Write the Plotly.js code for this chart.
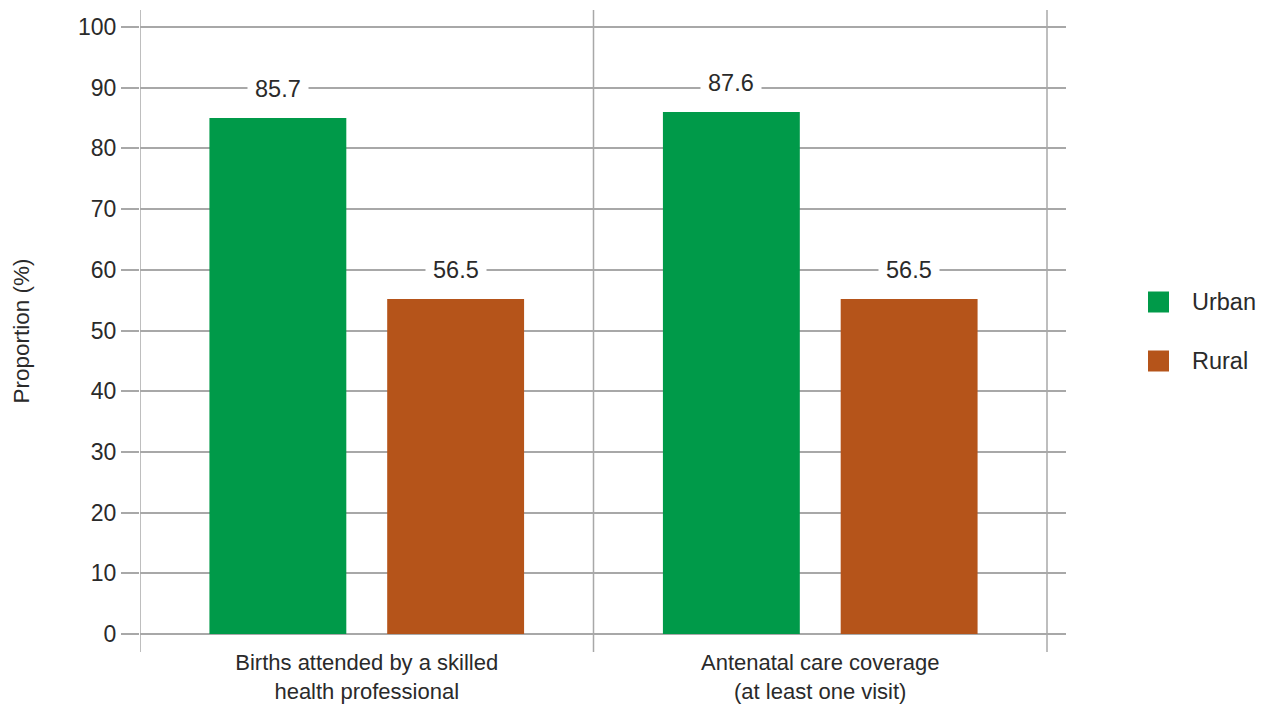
<!DOCTYPE html>
<html>
<head>
<meta charset="utf-8">
<script src="https://cdn.plot.ly/plotly-3.0.1.min.js"></script>
<style>
  html, body { margin: 0; padding: 0; background: #ffffff; }
  #chart { width: 1262px; height: 709px; }
</style>
</head>
<body>
<div id="chart"></div>
<script>
// ---- Data ----
var categories = ["Births attended by a skilled<br>health professional", "Antenatal care coverage<br>(at least one visit)"];
var seriesNames = ["Urban", "Rural"];
var urbanValues = [85.0, 86.0];
var ruralValues = [55.2, 55.2];
var urbanLabels = ["85.7", "87.6"];
var ruralLabels = ["56.5", "56.5"];
var yTickValues = [0, 10, 20, 30, 40, 50, 60, 70, 80, 90, 100];

// ---- Styling / layout ----
var FONT = "'Liberation Sans', Arial, Helvetica, sans-serif";
var TEXT = "#2a2a2a";
var GRID = "#a8a8a8";
var COLORS = ["#009a49", "#b5541a"];

var plotLeft = 140, plotRight = 1066, plotTop = 10, plotBottom = 652;
function px(x) { return (x - plotLeft) / (plotRight - plotLeft); }
function py(y) { return (plotBottom - y) / (plotBottom - plotTop); }

var bargap = 0.216, bargroupgap = 0.23;
var offset = (1 - bargap) / 4;

var traces = [
  { type: "bar", name: seriesNames[0], x: [0, 1], y: urbanValues,
    marker: { color: COLORS[0] }, hoverinfo: "y+name" },
  { type: "bar", name: seriesNames[1], x: [0, 1], y: ruralValues,
    marker: { color: COLORS[1] }, hoverinfo: "y+name" }
];

var annotations = [];
function addLabels(values, labels, shift) {
  for (var i = 0; i < values.length; i++) {
    annotations.push({
      x: i + shift, y: values[i], xref: "x", yref: "y",
      text: labels[i], showarrow: false, yshift: 29, yanchor: "middle",
      bgcolor: "#ffffff", borderpad: 7,
      font: { family: FONT, size: 23.5, color: TEXT }
    });
  }
}
addLabels(urbanValues, urbanLabels, -offset);
addLabels(ruralValues, ruralLabels, offset);

// custom legend
var legendY = [302, 361];
var shapes = [];
for (var s = 0; s < seriesNames.length; s++) {
  shapes.push({
    type: "rect", xref: "paper", yref: "paper",
    x0: px(1148), x1: px(1169), y0: py(legendY[s] + 10.5), y1: py(legendY[s] - 10.5),
    fillcolor: COLORS[s], line: { width: 0 }
  });
  annotations.push({
    xref: "paper", yref: "paper", x: px(1190), y: py(legendY[s]),
    xanchor: "left", yanchor: "middle", showarrow: false,
    text: seriesNames[s], font: { family: FONT, size: 23.5, color: TEXT }
  });
}
// category separator lines
[-0.5, 0.5, 1.5].forEach(function (xv) {
  shapes.push({
    type: "line", xref: "x", yref: "paper", x0: xv, x1: xv, y0: 0, y1: 1,
    line: { color: GRID, width: 1.5 }, layer: "below"
  });
});

var layout = {
  width: 1262, height: 709,
  margin: { l: plotLeft, r: 1262 - plotRight, t: plotTop, b: 709 - plotBottom, pad: 0 },
  paper_bgcolor: "#ffffff", plot_bgcolor: "#ffffff",
  font: { family: FONT, size: 23, color: TEXT },
  showlegend: false,
  barmode: "group", bargap: bargap, bargroupgap: bargroupgap,
  xaxis: {
    range: [-0.5, 1.5 + 19 / 453.5],
    tickmode: "array", tickvals: [0, 1], ticktext: categories,
    showgrid: false, zeroline: false, showline: false, ticks: "",
    ticklabelstandoff: -5,
    tickfont: { family: FONT, size: 22, color: TEXT },
    fixedrange: true
  },
  yaxis: {
    range: [-18 / 6.07, (634 - 10) / 6.07],
    tickmode: "array", tickvals: yTickValues,
    showgrid: true, gridcolor: GRID, gridwidth: 1.5,
    zeroline: true, zerolinecolor: GRID, zerolinewidth: 1.5,
    showline: false,
    ticks: "outside", ticklen: 18, tickcolor: GRID, tickwidth: 1.5,
    tickfont: { family: FONT, size: 23, color: TEXT },
    title: { text: "Proportion (%)", standoff: 42, font: { family: FONT, size: 22.5, color: TEXT } },
    fixedrange: true
  },
  shapes: shapes,
  annotations: annotations
};

Plotly.newPlot("chart", traces, layout, { displayModeBar: false, responsive: false });
</script>
</body>
</html>
